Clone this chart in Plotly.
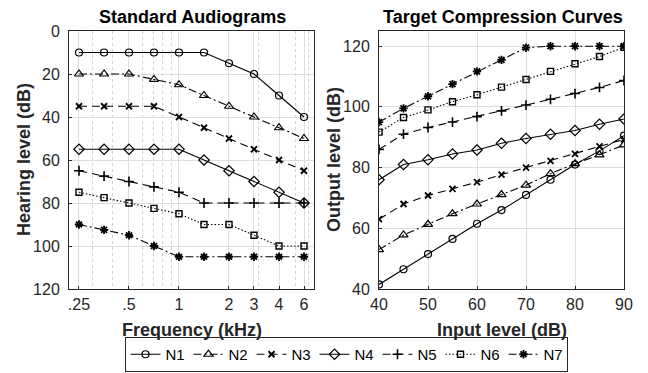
import plotly.graph_objects as go

# ---------------- data ----------------
series_names = ["N1", "N2", "N3", "N4", "N5", "N6", "N7"]

freq_khz = [0.25, 0.354, 0.5, 0.707, 1.0, 1.414, 2.0, 2.828, 4.0, 5.657]
freq_tick_vals = [0.25, 0.5, 1.0, 2.0, 2.828, 4.0, 5.657]
freq_tick_text = [".25", ".5", "1", "2", "3", "4", "6"]
freq_minor_vals = [0.3, 0.4, 0.5, 0.6, 0.7, 0.8, 0.9, 1, 2, 3, 4, 5, 6]

hl_N1 = [10, 10, 10, 10, 10, 10, 15, 20, 30, 40]
hl_N2 = [20, 20, 20, 22.5, 25, 30, 35, 40, 45, 50]
hl_N3 = [35, 35, 35, 35, 40, 45, 50, 55, 60, 65]
hl_N4 = [55, 55, 55, 55, 55, 60, 65, 70, 75, 80]
hl_N5 = [65, 67.5, 70, 72.5, 75, 80, 80, 80, 80, 80]
hl_N6 = [75, 77.5, 80, 82.5, 85, 90, 90, 95, 100, 100]
hl_N7 = [90, 92.5, 95, 100, 105, 105, 105, 105, 105, 105]
hearing_levels = [hl_N1, hl_N2, hl_N3, hl_N4, hl_N5, hl_N6, hl_N7]

input_db = [40, 45, 50, 55, 60, 65, 70, 75, 80, 85, 90]
out_N1 = [41.5, 46.5, 51.5, 56.5, 61.5, 66, 71, 76, 81, 85.5, 90.5]
out_N2 = [53, 57.8, 61.3, 64.8, 68, 71.1, 74.2, 78, 81.3, 84.2, 87.5]
out_N3 = [63, 68, 70.8, 73, 75.2, 77.7, 80, 82.2, 84.5, 87, 89.3]
out_N4 = [76, 81, 82.6, 84.5, 85.8, 88, 89.6, 91, 92.2, 94.3, 96]
out_N5 = [86, 91, 93.2, 95, 96.8, 98.7, 100.6, 102.5, 104.4, 106.4, 108.7]
out_N6 = [91.7, 96.5, 99, 101.7, 104, 106.5, 109, 111.7, 114.2, 116.6, 119.6]
out_N7 = [95, 99.5, 103.5, 107.5, 111.7, 115.5, 119.5, 120, 120, 120, 120]
output_levels = [out_N1, out_N2, out_N3, out_N4, out_N5, out_N6, out_N7]

# ---------------- styles ----------------
symbols = ["circle-open", "triangle-up-open", "x-thin-open", "diamond-open",
           "cross-thin-open", "square-open", "asterisk-open"]
dashes = ["solid", "8px,3px,2px,3px", "8px,5px", "solid", "8px,5px",
          "1.5px,2px", "8px,3px,2px,3px"]
msizes = [7, 8, 6, 8, 7, 6, 7]
mlw = [1.2, 1.2, 1.8, 1.2, 1.6, 1.4, 1.8]

FONT = "Liberation Sans, Arial, Helvetica, sans-serif"
AX = "#262626"

fig = go.Figure()
for i, name in enumerate(series_names):
    line = dict(color="black", width=1.1, dash=dashes[i])
    marker = dict(symbol=symbols[i], size=msizes[i], color="black",
                  line=dict(color="black", width=mlw[i]))
    fig.add_trace(go.Scatter(x=freq_khz, y=hearing_levels[i], mode="lines+markers",
                             name=name, line=line, marker=marker,
                             xaxis="x", yaxis="y", showlegend=True))
    fig.add_trace(go.Scatter(x=input_db, y=output_levels[i], mode="lines+markers",
                             name=name, line=line, marker=marker,
                             xaxis="x2", yaxis="y2", showlegend=False))

W, H = 648, 373
def px_x(p): return p / W
def px_y(p): return 1 - p / H

axis_common = dict(showline=True, mirror=True, linecolor=AX, linewidth=1,
                   ticks="inside", ticklen=3, tickcolor=AX,
                   showgrid=True, gridcolor="#dedede", gridwidth=1,
                   zeroline=False, automargin=False,
                   tickfont=dict(family=FONT, size=16, color=AX))

fig.update_layout(
    width=W, height=H,
    margin=dict(l=0, r=0, t=0, b=0),
    paper_bgcolor="white", plot_bgcolor="white",
    font=dict(family=FONT, color=AX),
    xaxis=dict(domain=[px_x(69), px_x(314)], type="log",
               range=[-0.6622, 0.8128],
               tickmode="array", tickvals=freq_tick_vals, ticktext=freq_tick_text,
               minor=dict(tickmode="array", tickvals=freq_minor_vals, showgrid=True,
                          gridcolor="#d2d2d2", griddash="dot", ticks=""),
               ticklabelstandoff=1,
               anchor="y", **axis_common),
    yaxis=dict(domain=[px_y(289), px_y(31)], range=[120, 0],
               tickmode="array", tickvals=[0, 20, 40, 60, 80, 100, 120],
               ticklabelstandoff=5,
               anchor="x", **axis_common),
    xaxis2=dict(domain=[px_x(379), px_x(624)], range=[40, 90],
                tickmode="array", tickvals=[40, 50, 60, 70, 80, 90],
                ticklabelstandoff=1,
                anchor="y2", **axis_common),
    yaxis2=dict(domain=[px_y(289), px_y(31)], range=[40, 125],
                tickmode="array", tickvals=[40, 60, 80, 100, 120],
                ticklabelstandoff=5,
                anchor="x2", **axis_common),
    legend=dict(orientation="h", x=px_x(346), xanchor="center",
                y=px_y(372), yanchor="bottom",
                bordercolor=AX, borderwidth=1, bgcolor="white",
                font=dict(family=FONT, size=15, color="black"),
                itemwidth=30, entrywidth=18, entrywidthmode="pixels",
                tracegroupgap=0),
    showlegend=True,
)

title_font = dict(family=FONT, size=18, color="black", weight="bold")
label_font = dict(family=FONT, size=18, color=AX, weight="bold")
annos = [
    dict(text="Standard Audiograms", x=px_x(192), y=px_y(17), font=title_font),
    dict(text="Target Compression Curves", x=px_x(503), y=px_y(17), font=title_font),
    dict(text="Frequency (kHz)", x=px_x(192), y=px_y(330), font=label_font),
    dict(text="Input level (dB)", x=px_x(502), y=px_y(330), font=label_font),
    dict(text="Hearing level (dB)", x=px_x(24), y=px_y(160), font=label_font, textangle=-90),
    dict(text="Output level (dB)", x=px_x(334), y=px_y(160), font=label_font, textangle=-90),
]
for a in annos:
    fig.add_annotation(xref="paper", yref="paper", showarrow=False,
                       xanchor="center", yanchor="middle", **a)

fig.write_html("out.html")
